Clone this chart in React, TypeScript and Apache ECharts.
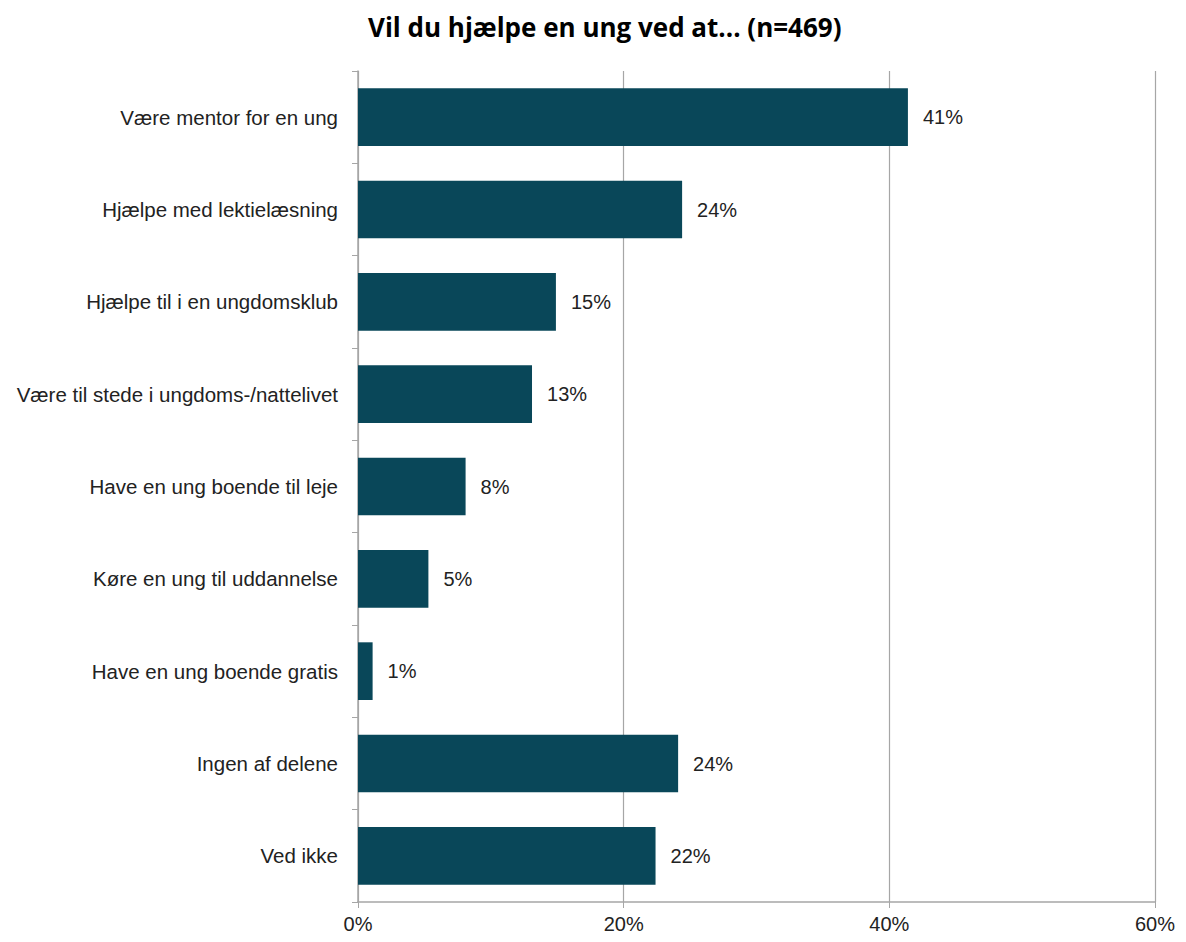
import React, { useEffect, useRef } from "react";
import * as echarts from "echarts";

const categories = [
  "Være mentor for en ung",
  "Hjælpe med lektielæsning",
  "Hjælpe til i en ungdomsklub",
  "Være til stede i ungdoms-/nattelivet",
  "Have en ung boende til leje",
  "Køre en ung til uddannelse",
  "Have en ung boende gratis",
  "Ingen af delene",
  "Ved ikke",
];
const values = [41.4, 24.4, 14.9, 13.1, 8.1, 5.3, 1.1, 24.1, 22.4];
const xTicks = [0, 20, 40, 60];
const titleText = "Vil du hjælpe en ung ved at... (n=469)";

export default function App() {
  const ref = useRef<HTMLDivElement>(null);
  useEffect(() => {
    if (!ref.current) return;
    const chart = echarts.init(ref.current, null, { renderer: "svg" });
    chart.setOption({
      animation: false,
      title: {
        text: titleText,
        left: 355,
        top: 4,
        padding: [2, 5, 2, 5],
        textStyle: { fontFamily: "Open Sans", fontWeight: "bold", fontSize: 26, color: "#000" },
      },
      grid: { left: 350, right: 16, top: 63, bottom: 28, containLabel: false },
      xAxis: {
        type: "value",
        min: xTicks[0],
        max: xTicks[xTicks.length - 1],
        interval: 20,
        axisLine: { show: true, lineStyle: { color: "#a6a6a6", width: 1.5 } },
        axisTick: { show: true, length: 6, lineStyle: { color: "#a6a6a6" } },
        splitLine: { show: true, lineStyle: { color: "#a6a6a6", width: 1.2 } },
        axisLabel: {
          formatter: (v: number) => v + "%",
          fontFamily: "Liberation Sans",
          fontSize: 20,
          color: "#222",
          margin: 12,
        },
      },
      yAxis: {
        type: "category",
        data: categories,
        inverse: true,
        axisLine: { show: true, lineStyle: { color: "#a6a6a6", width: 1.5 } },
        axisTick: { show: true, length: 6, lineStyle: { color: "#a6a6a6" } },
        axisLabel: {
          fontFamily: "Liberation Sans",
          fontSize: 20.5,
          color: "#222",
          margin: 20,
        },
      },
      series: [
        {
          type: "bar",
          data: values,
          barCategoryGap: "37.5%",
          itemStyle: { color: "#094759" },
          label: {
            show: true,
            position: "right",
            distance: 15,
            formatter: (p: any) => Math.round(p.value) + "%",
            fontFamily: "Liberation Sans",
            fontSize: 20,
            color: "#222",
          },
        },
      ],
    });
    return () => chart.dispose();
  }, []);
  return <div ref={ref} style={{ width: 1170, height: 926 }} />;
}
